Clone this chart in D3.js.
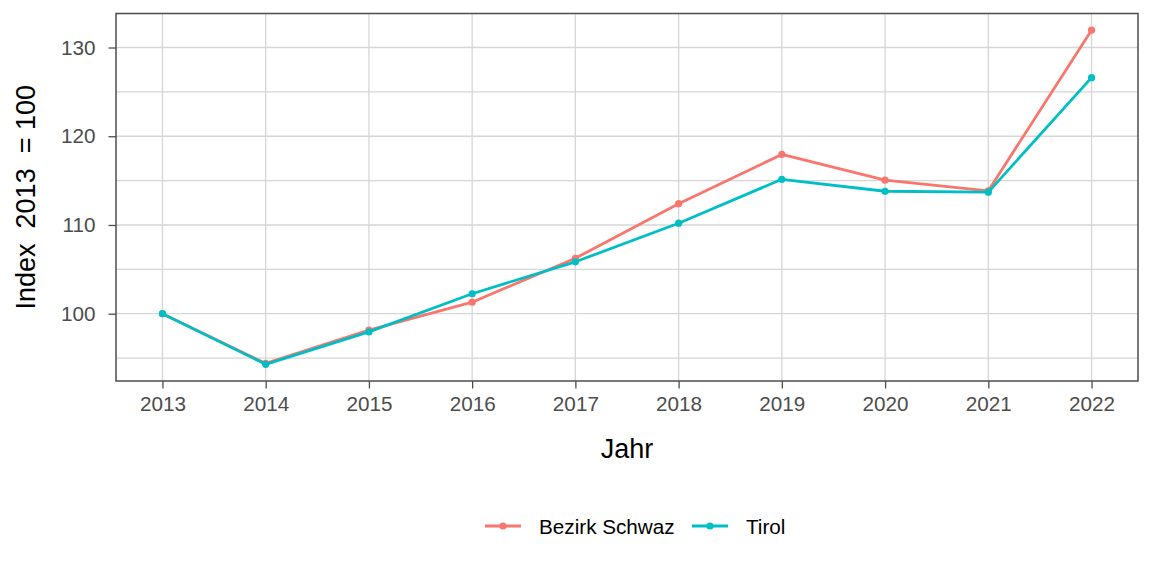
<!DOCTYPE html>
<html><head><meta charset="utf-8">
<script src="https://cdn.jsdelivr.net/npm/d3@7"></script>
<style>body{margin:0;background:#fff}svg{display:block;font-family:"Liberation Sans",Arial,sans-serif}</style>
</head><body><svg id="c" width="1152" height="576"></svg>
<script>
const years = [2013,2014,2015,2016,2017,2018,2019,2020,2021,2022];
const schwaz = [100,94.4,98.15,101.3,106.25,112.4,117.95,115.05,113.85,131.95];
const tirol  = [100,94.3,97.95,102.25,105.85,110.2,115.15,113.8,113.7,126.6];
const seriesNames = ["Bezirk Schwaz","Tirol"];
const seriesColors = ["#F8766D","#00BFC4"];
const yTicks = [100,110,120,130];
const yMinor = [95,105,115,125];

const svg = d3.select("#c");
const L=116, R=1138, T=13.5, B=381;
const allV = schwaz.concat(tirol);
const vmin=d3.min(allV), vmax=d3.max(allV), ex=(vmax-vmin)*0.05;
const y = d3.scaleLinear().domain([vmin-ex, vmax+ex]).range([B,T]);
const xe=(years[years.length-1]-years[0])*0.05;
const x = d3.scaleLinear().domain([years[0]-xe, years[years.length-1]+xe]).range([L,R]);

const g = svg.append("g");
// grid
g.selectAll(".ymin").data(yMinor).join("line").attr("x1",L).attr("x2",R)
 .attr("y1",d=>y(d)).attr("y2",d=>y(d)).attr("stroke","#D6D6D6").attr("stroke-width",1.1);
g.selectAll(".ymaj").data(yTicks).join("line").attr("x1",L).attr("x2",R)
 .attr("y1",d=>y(d)).attr("y2",d=>y(d)).attr("stroke","#D6D6D6").attr("stroke-width",1.3);
g.selectAll(".xmaj").data(years).join("line").attr("y1",T).attr("y2",B)
 .attr("x1",d=>x(d)).attr("x2",d=>x(d)).attr("stroke","#D6D6D6").attr("stroke-width",1.3);

// axes
const yAx = svg.append("g").attr("transform",`translate(${L},0)`)
 .call(d3.axisLeft(y).tickValues(yTicks).tickSize(7.5).tickPadding(13).tickFormat(d3.format("d")));
const xAx = svg.append("g").attr("transform",`translate(0,${B})`)
 .call(d3.axisBottom(x).tickValues(years).tickSize(7.5).tickPadding(7.5).tickFormat(d3.format("d")));
[yAx,xAx].forEach(a=>{
  a.select(".domain").remove();
  a.selectAll(".tick line").attr("stroke","#4D4D4D").attr("stroke-width",1.3);
  a.selectAll(".tick text").attr("fill","#4D4D4D").style("font-size","20.7px").style("font-family","Liberation Sans, Arial, sans-serif");
});

// lines
const line = d3.line().x((d,i)=>x(years[i])).y(d=>y(d));
[schwaz,tirol].forEach((s,k)=>{
  svg.append("path").datum(s).attr("d",line).attr("fill","none")
   .attr("stroke",seriesColors[k]).attr("stroke-width",2.8).attr("stroke-linejoin","round");
  svg.selectAll(null).data(s).join("circle").attr("cx",(d,i)=>x(years[i])).attr("cy",d=>y(d))
   .attr("r",3.6).attr("fill",seriesColors[k]);
});

// border
svg.append("rect").attr("x",L).attr("y",T).attr("width",R-L).attr("height",B-T)
 .attr("fill","none").attr("stroke","#4D4D4D").attr("stroke-width",1.5);

// titles
svg.append("text").attr("x",(L+R)/2).attr("y",457.5).attr("text-anchor","middle")
 .style("font-size","27px").attr("fill","#000").text("Jahr");
svg.append("text").attr("transform",`translate(35,${(T+B)/2}) rotate(-90)`).attr("text-anchor","middle")
 .style("font-size","27px").attr("fill","#000").attr("xml:space","preserve").style("white-space","pre")
 .text("Index  2013  = 100");

// legend
const legX=[485,692];
seriesNames.forEach((n,k)=>{
  const lg = svg.append("g");
  lg.append("line").attr("x1",legX[k]).attr("x2",legX[k]+36).attr("y1",526).attr("y2",526)
    .attr("stroke",seriesColors[k]).attr("stroke-width",2.8);
  lg.append("circle").attr("cx",legX[k]+18).attr("cy",526).attr("r",3.6).attr("fill",seriesColors[k]);
  lg.append("text").attr("x",legX[k]+54).attr("y",533.5).style("font-size","20.7px").attr("fill","#000").text(n);
});
</script></body></html>
